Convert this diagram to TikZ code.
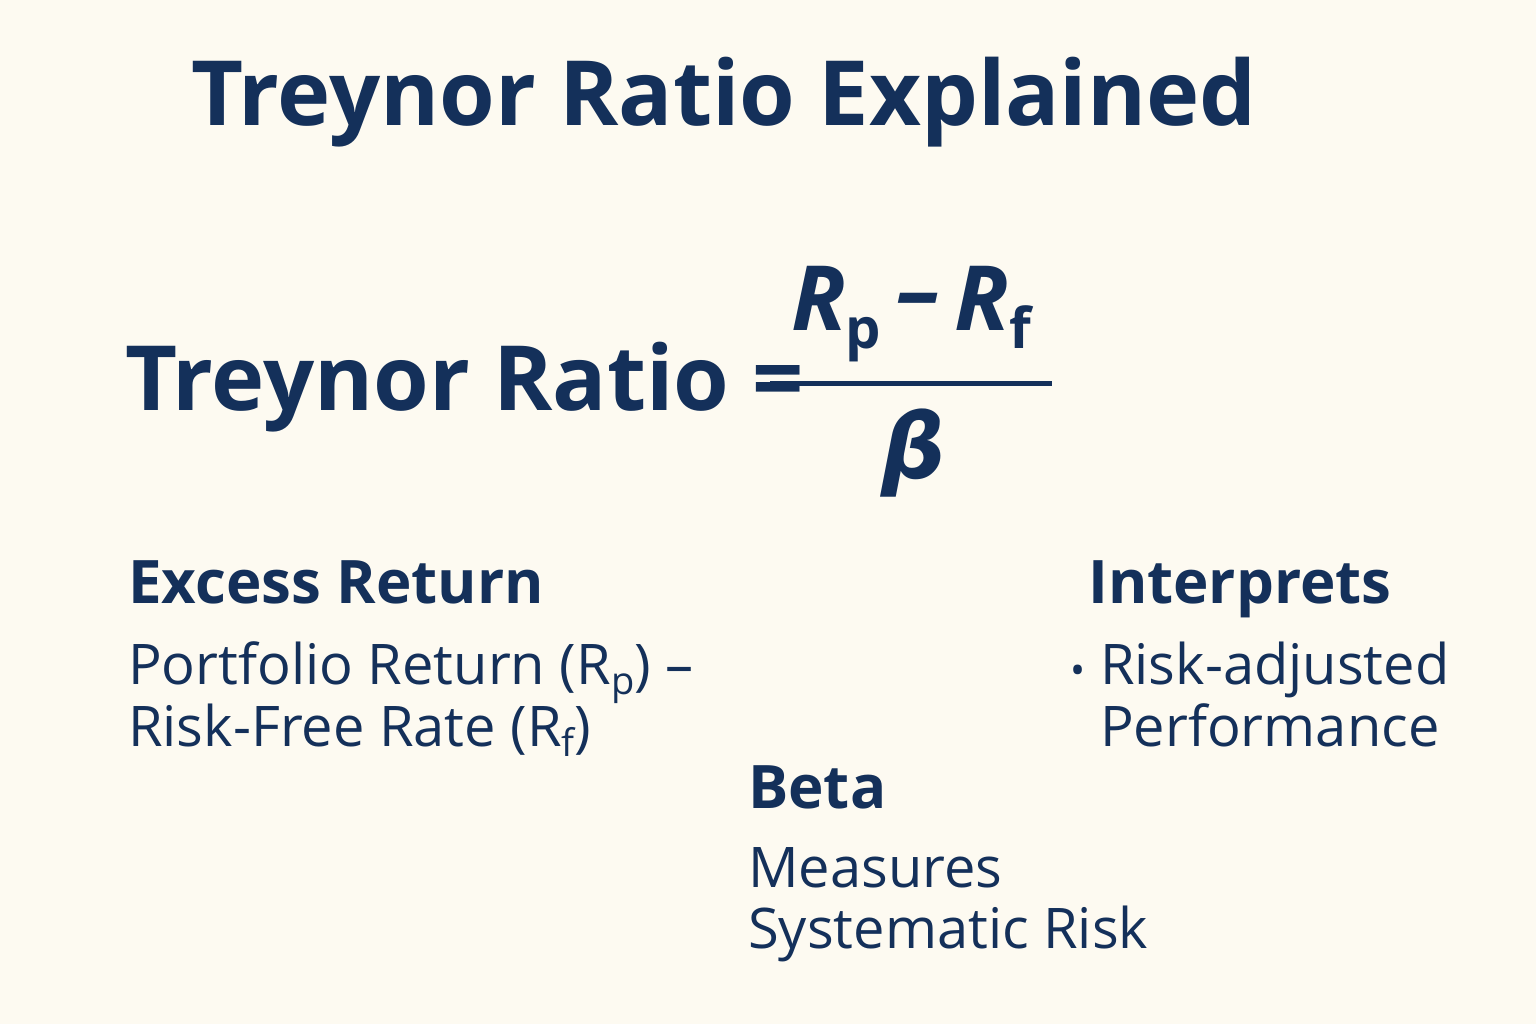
\documentclass[tikz,border=0pt]{standalone}
\usepackage{fontspec}
\setmainfont{Open Sans}
\definecolor{navy}{HTML}{14305A}
\definecolor{cream}{HTML}{FDFAF1}
\tikzset{
  txt/.style={anchor=base west, inner sep=0pt, text=navy},
  head/.style={txt, font=\fontsize{60}{70}\selectfont\bfseries},
  body/.style={txt, font=\fontsize{56}{62}\selectfont},
  big/.style={txt, font=\fontsize{90}{100}\selectfont\bfseries},
}
\begin{document}
\begin{tikzpicture}[x=1pt,y=-1pt]
\fill[cream] (0,0) rectangle (1536,1024);
\useasboundingbox (0,0) rectangle (1536,1024);
\node[big,anchor=base] (title) at (724,126) {Treynor Ratio Explained};
\node[big] (lhs) at (125,410) {Treynor Ratio =};
\draw[navy, line width=5pt] (770,383) -- (1052,383);
\node[txt,anchor=base, font=\fontsize{90}{100}\selectfont\bfseries\itshape] (num) at (911,330) {R\raisebox{-18pt}{\fontsize{56}{60}\selectfont\upshape p}\,\raisebox{8pt}{--}\,R\raisebox{-18pt}{\fontsize{56}{60}\selectfont\upshape f}};
\node[txt,anchor=base, font=\fontsize{90}{100}\selectfont\bfseries\itshape] (beta) at (914,478) {\fontspec{DejaVu Sans}\itshape β};
\node[head] (ex) at (128,603) {Excess Return};
\node[body] (ex1) at (128,684) {Portfolio Return (R\raisebox{-10pt}{\fontsize{38}{40}\selectfont p}) –};
\node[body] (ex2) at (128,746) {Risk-Free Rate (R\raisebox{-10pt}{\fontsize{38}{40}\selectfont f})};
\node[head] (in) at (1088,603) {Interprets};
\node[body] (bul) at (1070,684) {\fontsize{40}{40}\selectfont•};
\node[body] (in1) at (1100,684) {Risk-adjusted};
\node[body] (in2) at (1100,746) {Performance};
\node[head] (be) at (748,808) {Beta};
\node[body] (be1) at (748,887) {Measures};
\node[body] (be2) at (748,948) {Systematic Risk};
\end{tikzpicture}
\end{document}
